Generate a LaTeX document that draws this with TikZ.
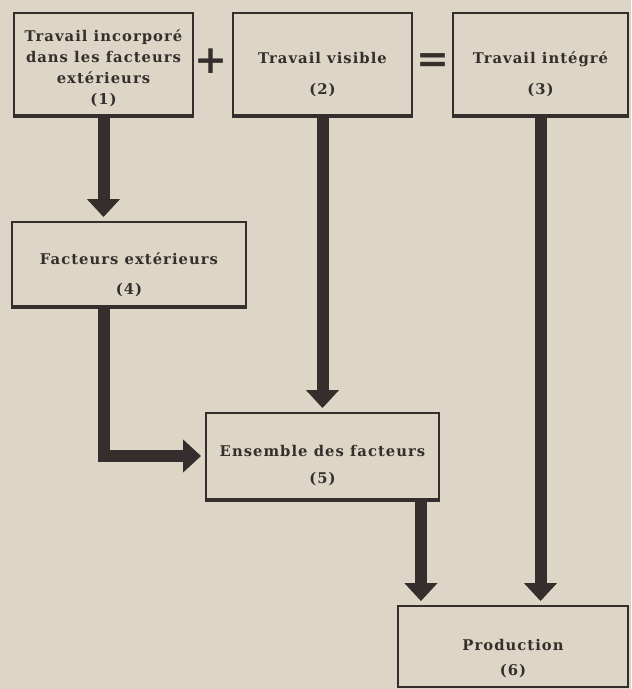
\documentclass[tikz,border=0pt]{standalone}
\usepackage{fontspec}
\setmainfont{DejaVu Serif}[LetterSpace=7]
\usepackage{tikz}
\usepackage{xcolor}
\usetikzlibrary{arrows.meta,positioning,calc}
\definecolor{paper}{RGB}{221,214,198}
\definecolor{ink}{RGB}{52,47,44}
\newcommand\textdrop[1]{\rule{0pt}{#1}}

\begin{document}
\begin{tikzpicture}[x=0.025cm, y=-0.025cm, every node/.style={font=\fontsize{10.5}{15}\selectfont\bfseries, text=ink},
  box/.style={draw=ink, line width=1.3pt, align=center, inner sep=0pt},
  sign/.style={font=\fontsize{28}{28}\selectfont\bfseries, inner sep=0pt},
  flow/.style={draw=ink, line width=0.3cm, shorten >=0.1cm, -{Triangle[width=0.8cm,length=0.45cm]}}]
\fill[paper] (0,0) rectangle (631,689);
\useasboundingbox (0,0) rectangle (631,689);
\node[box,minimum width=4.475cm,minimum height=2.55cm] (incorp) at (103.5,64) {\textdrop{14pt}Travail incorporé\\dans les facteurs\\extérieurs\\(1)};
\node[box,minimum width=4.475cm,minimum height=2.55cm] (visible) at (322.5,64) {\textdrop{23pt}Travail visible\\[7pt](2)};
\node[box,minimum width=4.375cm,minimum height=2.55cm] (integre) at (540.5,64) {\textdrop{23pt}Travail intégré\\[7pt](3)};
\node[box,minimum width=5.85cm,minimum height=2.1cm] (facteurs) at (129,264) {\textdrop{24pt}Facteurs extérieurs\\[6pt](4)};
\node[box,minimum width=5.825cm,minimum height=2.15cm] (ensemble) at (322.5,456) {\textdrop{22pt}Ensemble des facteurs\\[4pt](5)};
\node[box,minimum width=5.75cm,minimum height=2.025cm] (prod) at (513,646.5) {\textdrop{25pt}Production\\[3pt](6)};
\node[sign] (plus) at ($(incorp.east)!0.5!(visible.west)+(-2,-3)$) {+};
\node[sign] (egal) at ($(visible.east)!0.5!(integre.west)+(0,-1)$) {=};
% heavier bottom edges
\foreach \b in {incorp,visible,integre,facteurs,ensemble}
  \draw[ink, line width=2.6pt] (\b.south west) -- (\b.south east);
\coordinate (drop) at ($(ensemble.south east)+(-19,0)$);
\draw[flow] (incorp.south) -- (incorp.south |- facteurs.north);
\draw[flow] (visible.south) -- (ensemble.north);
\draw[flow] (incorp.south |- facteurs.south) -- (incorp.south |- ensemble.west) -- (ensemble.west);
\draw[flow] (drop) -- (drop |- prod.north);
\draw[flow] (integre.south) -- (integre.south |- prod.north);
\end{tikzpicture}
\end{document}
